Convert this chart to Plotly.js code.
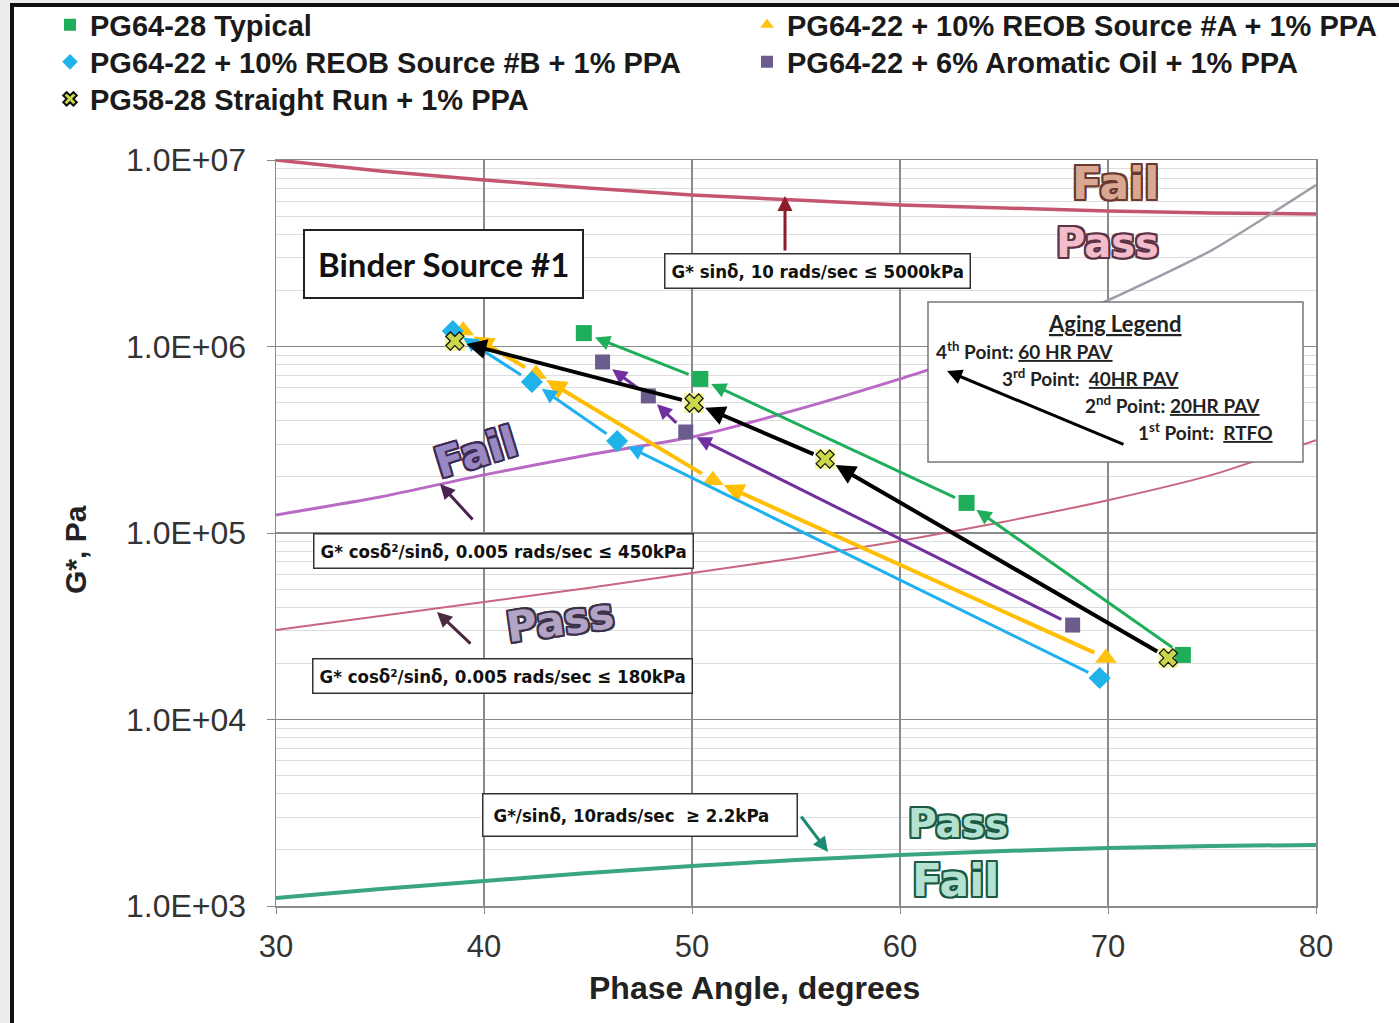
<!DOCTYPE html>
<html>
<head>
<meta charset="utf-8">
<script src="https://cdn.plot.ly/plotly-3.0.1.min.js"></script>
<style>
  html, body { margin: 0; padding: 0; background: #ececec; }
  #frame { position: absolute; left: 10px; top: 3px; width: 1389px; height: 1020px;
           border-left: 4px solid #111; border-top: 4px solid #111; background: #fff; box-sizing: border-box; }
  #chart { position: absolute; left: 0; top: 0; width: 1399px; height: 1023px; }
</style>
</head>
<body>
<div id="frame"></div>
<div id="chart"></div>
<script>
// ---------------- data ----------------
// aging stages: 1st RTFO, 2nd 20HR PAV, 3rd 40HR PAV, 4th 60HR PAV
const stages = ['RTFO', '20HR PAV', '40HR PAV', '60HR PAV'];

const pg6428Delta = [73.6, 63.2, 50.4, 44.8];
const pg6428G     = [22200, 145000, 670000, 1180000];

const reobADelta = [69.9, 51.0, 42.5, 39.0];
const reobAG     = [21400, 192000, 713000, 1220000];

const reobBDelta = [69.6, 46.4, 42.3, 38.5];
const reobBG     = [16700, 311000, 646000, 1210000];

const aromDelta = [68.3, 49.7, 47.9, 45.7];
const aromG     = [32100, 348000, 543000, 826000];

const srDelta = [72.9, 56.4, 50.1, 38.6];
const srG     = [21400, 249000, 498000, 1070000];

// specification limit curves
const specDelta  = [30, 35, 40, 45, 50, 55, 60, 65, 70, 75, 80];
const gSin5000   = [1.0e7, 8.73e6, 7.82e6, 7.08e6, 6.49e6, 6.1e6, 5.74e6, 5.53e6, 5.33e6, 5.2e6, 5.13e6];
const gr450      = [1.25e5, 1.56e5, 2.05e5, 2.62e5, 3.27e5, 4.57e5, 6.7e5, 1.02e6, 1.77e6, 3.29e6, 7.35e6];
const gr180      = [3.02e4, 3.59e4, 4.27e4, 5.07e4, 6.1e4, 7.35e4, 9.07e4, 1.15e5, 1.5e5, 2.05e5, 3.15e5];
const gSin22     = [1104, 1233, 1361, 1503, 1637, 1766, 1876, 1972, 2047, 2099, 2125];

const yTickVals  = [1e3, 1e4, 1e5, 1e6, 1e7];
const yTickText  = ['1.0E+03', '1.0E+04', '1.0E+05', '1.0E+06', '1.0E+07'];
const xTickVals  = [30, 40, 50, 60, 70, 80];

// ---------------- traces ----------------
const L = Math.log10;
const curve = (x, y, color, width, name) => ({
  x: x, y: y, mode: 'lines', type: 'scatter', showlegend: false, hoverinfo: 'skip',
  line: { color: color, width: width, shape: 'spline', smoothing: 0.6 }, name: name
});

const traces = [
  curve(specDelta, gSin5000, '#c4566f', 3.5, 'G* sinδ 5000kPa'),
  curve(specDelta.slice(0, 8), gr450.slice(0, 8), '#b86ac4', 3, 'GR 450kPa'),
  curve(specDelta.slice(7), gr450.slice(7), '#a29aa6', 2.5, 'GR 450kPa (upper)'),
  curve(specDelta, gr180, '#c8667f', 2, 'GR 180kPa'),
  curve(specDelta, gSin22, '#3aa583', 4, 'G*/sinδ 2.2kPa'),
];

const series = [
  { name: 'PG64-28 Typical', x: pg6428Delta, y: pg6428G, legend: 'legend',
    marker: { symbol: 'square', size: 16, color: '#1fae5a' }, arrow: '#1fae5a', aw: 3 },
  { name: 'PG64-22 + 10% REOB Source #A + 1% PPA', x: reobADelta, y: reobAG, legend: 'legend2',
    marker: { symbol: 'triangle-up', size: 19, color: '#ffc20e' }, arrow: '#ffbf00', aw: 4 },
  { name: 'PG64-22 + 10% REOB Source #B + 1% PPA', x: reobBDelta, y: reobBG, legend: 'legend3',
    marker: { symbol: 'diamond', size: 17, color: '#1fb3ea' }, arrow: '#1fb0ef', aw: 3 },
  { name: 'PG64-22 + 6% Aromatic Oil + 1% PPA', x: aromDelta, y: aromG, legend: 'legend4',
    marker: { symbol: 'square', size: 15, color: '#6b5c8e' }, arrow: '#7030a0', aw: 3 },
  { name: 'PG58-28 Straight Run + 1% PPA', x: srDelta, y: srG, legend: 'legend5',
    marker: { symbol: 'x', size: 16, color: '#c8d84a', line: { color: '#111', width: 1.2 } }, arrow: '#000000', aw: 4 },
];

// pale yellow glow behind the X markers
traces.push({ x: srDelta, y: srG, mode: 'markers', type: 'scatter', showlegend: false, hoverinfo: 'skip',
  marker: { symbol: 'square', size: 20, color: 'rgba(245,245,150,0.85)' } });

series.forEach(s => traces.push({
  x: s.x, y: s.y, name: s.name, mode: 'markers', type: 'scatter', legend: s.legend,
  marker: s.marker, text: stages
}));

// ---------------- annotations ----------------
const annotations = [];

// aging arrows between consecutive aging points (1st -> 4th)
series.forEach(s => {
  for (let i = 0; i < s.x.length - 1; i++) {
    annotations.push({
      x: s.x[i + 1], y: L(s.y[i + 1]), ax: s.x[i], ay: L(s.y[i]),
      xref: 'x', yref: 'y', axref: 'x', ayref: 'y', text: '', showarrow: true,
      arrowhead: 2, arrowsize: 1, arrowwidth: s.aw, arrowcolor: s.arrow,
      standoff: 12, startstandoff: 11
    });
  }
});

const narrow = 'DejaVu Sans Condensed, Liberation Sans Narrow, Liberation Sans, Arial';
const calib = 'Lato, Open Sans, Liberation Sans';
const pxX = px => (px - 276) / 1040;
const pxY = py => (906 - py) / 746;
const boxNote = (px, py, text, size, family) => ({
  x: pxX(px), y: pxY(py), xref: 'paper', yref: 'paper', xanchor: 'center', yanchor: 'middle',
  text: text, showarrow: false,
  font: { family: family, size: size, color: '#111', weight: 'bold' },
  bgcolor: '#ffffff', bordercolor: '#333', borderwidth: 1.5, borderpad: 6
});

annotations.push(Object.assign(boxNote(443, 264, 'Binder Source #1', 33, calib),
  { borderpad: 13, bordercolor: '#222', borderwidth: 2 }));
annotations.push(boxNote(817, 271, 'G* sinδ, 10 rads/sec ≤ 5000kPa', 18.5, narrow));
annotations.push(boxNote(503, 551, 'G* cosδ²/sinδ, 0.005 rads/sec ≤ 450kPa', 18.5, narrow));
annotations.push(boxNote(502, 676, 'G* cosδ²/sinδ, 0.005 rads/sec ≤ 180kPa', 18.5, narrow));
annotations.push(Object.assign(boxNote(640, 815, 'G*/sinδ, 10rads/sec  ≥ 2.2kPa   ', 18.5, narrow),
  { borderpad: 10 }));

// pointer arrows
const pointer = (x1, y1, x0, y0, color, w) => ({
  x: pxX(x1), y: pxY(y1), ax: pxX(x0), ay: pxY(y0), xref: 'paper', yref: 'paper',
  axref: 'paper', ayref: 'paper', text: '', showarrow: true, arrowhead: 2, arrowsize: 1,
  arrowwidth: w, arrowcolor: color
});
annotations.push(pointer(785, 196, 785, 252, '#8e1b2c', 3));
annotations.push(pointer(440, 484, 474, 521, '#4a2450', 3));
annotations.push(pointer(437, 612, 472, 645, '#4a2a40', 3));
annotations.push(pointer(828, 852, 800, 815, '#1a8a70', 3));
annotations.push(pointer(947, 371, 1125, 445, '#000', 3));

// aging legend texts
const agingFont = { family: calib, size: 19, color: '#222', weight: 'bold' };
const ag = (px, py, text, anchor) => ({ x: pxX(px), y: pxY(py), xref: 'paper', yref: 'paper',
  text: text, showarrow: false, xanchor: anchor || 'left', yanchor: 'middle', font: agingFont });
annotations.push(Object.assign(ag(1115, 323, '<u>Aging Legend</u>', 'center'), { font: Object.assign({}, agingFont, { size: 22 }) }));
annotations.push(ag(934, 350, '4<sup>th</sup> Point: <u>60 HR PAV</u>'));
annotations.push(ag(1000, 377, '3<sup>rd</sup> Point:  <u>40HR PAV</u>'));
annotations.push(ag(1083, 404, '2<sup>nd</sup> Point: <u>20HR PAV</u>'));
annotations.push(ag(1136, 431, '1<sup>st</sup> Point:  <u>RTFO</u>'));

// Pass / Fail outlined words
const outline = c => [
  `-2px -2px 0 ${c}`, `2px -2px 0 ${c}`, `-2px 2px 0 ${c}`, `2px 2px 0 ${c}`,
  `0 -2px 0 ${c}`, `0 2px 0 ${c}`, `-2px 0 0 ${c}`, `2px 0 0 ${c}`].join(', ');
const word = (px, py, text, fill, edge, angle, size) => ({
  x: pxX(px), y: pxY(py), xref: 'paper', yref: 'paper', xanchor: 'center', yanchor: 'middle',
  text: text, showarrow: false, textangle: angle || 0,
  font: { family: 'DejaVu Sans, Liberation Sans', size: size || 42, weight: 'bold', color: fill, shadow: outline(edge) }
});
annotations.push(word(1115, 183, 'Fail', '#d9a892', '#6b3a2e', 0, 44));
annotations.push(word(1107, 243, 'Pass', '#f2bccb', '#5c3344', 0, 40));
annotations.push(word(475, 452, 'Fail', '#9a88c2', '#3b2c55', -17));
annotations.push(word(560, 620, 'Pass', '#b3a4c6', '#3b3148', -8));
annotations.push(word(958, 823, 'Pass', '#b4e2d2', '#1d5a44', 0, 39));
annotations.push(word(955, 880, 'Fail', '#b4e2d2', '#1d5a44', 0, 44));

// axis titles
annotations.push({ x: pxX(754), y: pxY(988), xref: 'paper', yref: 'paper', xanchor: 'center', yanchor: 'middle',
  showarrow: false, text: 'Phase Angle, degrees',
  font: { family: 'Liberation Sans, Arial', size: 32, weight: 'bold', color: '#222' } });
annotations.push({ x: pxX(75), y: pxY(550), xref: 'paper', yref: 'paper', xanchor: 'center', yanchor: 'middle',
  showarrow: false, textangle: -90, text: 'G*, Pa',
  font: { family: 'Liberation Sans, Arial', size: 30, weight: 'bold', color: '#222' } });

// ---------------- shapes ----------------
const shapes = [
  { type: 'rect', xref: 'paper', yref: 'paper', x0: pxX(928), x1: pxX(1303), y0: pxY(462), y1: pxY(302),
    fillcolor: '#ffffff', line: { color: '#777', width: 1.5 }, layer: 'above' }
];

// ---------------- legends (one per entry, placed like the reference) ----------------
const legendBase = {
  orientation: 'v', xref: 'container', yref: 'container', xanchor: 'left', yanchor: 'middle',
  bgcolor: 'rgba(0,0,0,0)', itemwidth: 30, itemsizing: 'constant',
  font: { family: 'Liberation Sans, Arial', size: 29, weight: 'bold', color: '#1a1a1a' }
};
const leg = (px, py) => Object.assign({}, legendBase, { x: px / 1399, y: 1 - py / 1023 });

const layout = {
  width: 1399, height: 1023,
  margin: { l: 276, r: 83, t: 160, b: 117, autoexpand: false },
  paper_bgcolor: 'rgba(0,0,0,0)', plot_bgcolor: '#ffffff',
  showlegend: true,
  legend:  leg(50, 25),
  legend2: leg(747, 25),
  legend3: leg(50, 62),
  legend4: leg(747, 62),
  legend5: leg(50, 99),
  xaxis: {
    range: [30, 80], tickvals: xTickVals, ticks: 'outside', ticklen: 6, tickcolor: '#888',
    ticklabelstandoff: 6, automargin: false,
    showgrid: true, gridcolor: '#8a8a8a', gridwidth: 1.5, zeroline: false,
    showline: true, mirror: true, linecolor: '#8a8a8a', linewidth: 1.5,
    tickfont: { family: 'Liberation Sans, Arial', size: 31, color: '#333' }
  },
  yaxis: {
    type: 'log', range: [3, 7], tickmode: 'array', tickvals: yTickVals, ticktext: yTickText,
    ticks: 'outside', ticklen: 8, tickcolor: '#888', ticklabelstandoff: 14, automargin: false,
    showgrid: true, gridcolor: '#8a8a8a', gridwidth: 1.5, zeroline: false,
    showline: true, mirror: true, linecolor: '#8a8a8a', linewidth: 1.5,
    tickfont: { family: 'Liberation Sans, Arial', size: 32, color: '#333' },
    minor: { dtick: 'D1', showgrid: true, gridcolor: '#dddddd', gridwidth: 1, ticks: '' }
  },
  annotations: annotations,
  shapes: shapes
};

Plotly.newPlot('chart', traces, layout, { displayModeBar: false, staticPlot: true });
</script>
</body>
</html>
